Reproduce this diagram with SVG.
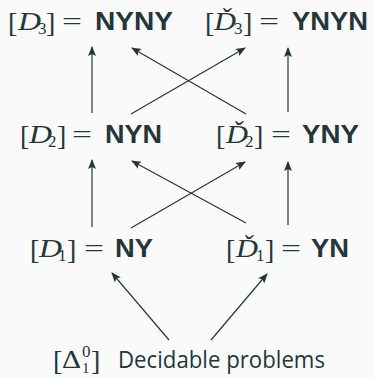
<svg xmlns="http://www.w3.org/2000/svg" width="373" height="378" viewBox="0 0 373 378">
<style>
.m{font-family:"Liberation Serif","DejaVu Serif",serif;font-size:25px;fill:#23373B}
.k{font-family:"Liberation Serif","DejaVu Serif",serif;font-size:28px;fill:#23373B}
.mi{font-family:"Liberation Serif","DejaVu Serif",serif;font-size:25px;font-style:italic;fill:#23373B}
.s{font-family:"Liberation Serif","DejaVu Serif",serif;font-size:17px;fill:#23373B}
.b{font-family:"Liberation Sans","Arial",sans-serif;font-size:25px;font-weight:bold;fill:#23373B}
.t{font-family:"Open Sans","Liberation Sans",sans-serif;font-size:24px;fill:#23373B}
.c line{stroke:#23373B;stroke-width:1.2;fill:none;marker-end:url(#ah)}
</style>
<defs>
<marker id="ah" markerUnits="userSpaceOnUse" markerWidth="10" markerHeight="8" refX="9" refY="4" orient="auto">
<path d="M0,0 L10,4 L0,8 L2,4 z" fill="#23373B"/>
</marker>
</defs>
<rect width="373" height="378" fill="#FAFAFA"/>
<g id="connectors" class="c">
<line x1="92" y1="113" x2="92" y2="47"/>
<line x1="131" y1="114" x2="245" y2="48"/>
<line x1="246" y1="114" x2="132" y2="48"/>
<line x1="288" y1="112" x2="288" y2="48"/>
<line x1="92" y1="227" x2="92" y2="160"/>
<line x1="131" y1="228" x2="245" y2="162"/>
<line x1="246" y1="223" x2="132" y2="161"/>
<line x1="288" y1="225" x2="288" y2="162"/>
<line x1="169" y1="340" x2="112" y2="273"/>
<line x1="211" y1="340" x2="267" y2="274"/>
</g>
<g id="D3">
<text class="k" x="8" y="32">[</text>
<text class="mi" x="18" y="30" textLength="23" lengthAdjust="spacingAndGlyphs">D</text>
<text class="s" x="38" y="34">3</text>
<text class="k" x="46" y="32">]</text>
<text class="m" x="62" y="30" textLength="20" lengthAdjust="spacingAndGlyphs">=</text>
<text class="b" x="95" y="30" textLength="78" lengthAdjust="spacingAndGlyphs">NYNY</text>
</g>
<g id="D3check">
<text class="k" x="205" y="32">[</text>
<text class="mi" x="214" y="30" textLength="22" lengthAdjust="spacingAndGlyphs">Ď</text>
<text class="s" x="234" y="34">3</text>
<text class="k" x="243" y="32">]</text>
<text class="m" x="259" y="30" textLength="20" lengthAdjust="spacingAndGlyphs">=</text>
<text class="b" x="292" y="30" textLength="76" lengthAdjust="spacingAndGlyphs">YNYN</text>
</g>
<g id="D2">
<text class="k" x="20" y="145">[</text>
<text class="mi" x="29" y="143" textLength="23" lengthAdjust="spacingAndGlyphs">D</text>
<text class="s" x="48" y="147">2</text>
<text class="k" x="57" y="145">]</text>
<text class="m" x="72" y="143" textLength="20" lengthAdjust="spacingAndGlyphs">=</text>
<text class="b" x="105" y="143" textLength="57" lengthAdjust="spacingAndGlyphs">NYN</text>
</g>
<g id="D2check">
<text class="k" x="216" y="145">[</text>
<text class="mi" x="226" y="143" textLength="22" lengthAdjust="spacingAndGlyphs">Ď</text>
<text class="s" x="245" y="147">2</text>
<text class="k" x="254" y="145">]</text>
<text class="m" x="271" y="143" textLength="20" lengthAdjust="spacingAndGlyphs">=</text>
<text class="b" x="302" y="143" textLength="57" lengthAdjust="spacingAndGlyphs">YNY</text>
</g>
<g id="D1">
<text class="k" x="30" y="259">[</text>
<text class="mi" x="39" y="257" textLength="23" lengthAdjust="spacingAndGlyphs">D</text>
<text class="s" x="58" y="261">1</text>
<text class="k" x="67" y="259">]</text>
<text class="m" x="84" y="257" textLength="20" lengthAdjust="spacingAndGlyphs">=</text>
<text class="b" x="115" y="257" textLength="38" lengthAdjust="spacingAndGlyphs">NY</text>
</g>
<g id="D1check">
<text class="k" x="226" y="259">[</text>
<text class="mi" x="236" y="257" textLength="22" lengthAdjust="spacingAndGlyphs">Ď</text>
<text class="s" x="256" y="261">1</text>
<text class="k" x="265" y="259">]</text>
<text class="m" x="281" y="257" textLength="20" lengthAdjust="spacingAndGlyphs">=</text>
<text class="b" x="311" y="257" textLength="38" lengthAdjust="spacingAndGlyphs">YN</text>
</g>
<g id="Delta01">
<text class="k" x="53" y="370">[</text>
<text class="m" x="62" y="368" textLength="19" lengthAdjust="spacingAndGlyphs">Δ</text>
<text class="s" x="82" y="357">0</text>
<text class="s" x="82" y="373" style="font-size:15px">1</text>
<text class="k" x="91" y="370">]</text>
<text class="t" x="118" y="368" textLength="207" lengthAdjust="spacingAndGlyphs">Decidable problems</text>
</g>
</svg>
